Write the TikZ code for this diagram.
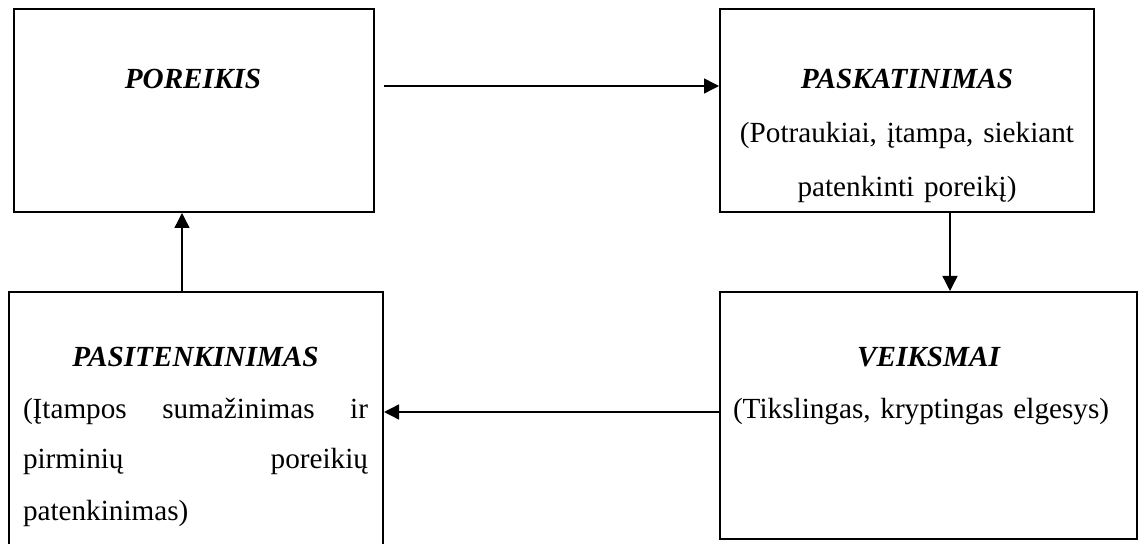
\documentclass[tikz,border=0pt]{standalone}
\usepackage{fontspec}
\setmainfont{Liberation Serif}
\usepackage{tikz}
\usetikzlibrary{arrows.meta,positioning}
\setlength{\parindent}{0pt}

\begin{document}
\begin{tikzpicture}[x=0.5pt,y=-0.5pt,
data/.style={
rectangle,
draw,
line width=1pt
},
txt/.style={anchor=base,inner sep=0pt,font=\fontsize{14.6pt}{25.5pt}\selectfont},
title/.style={txt,font=\fontsize{14.6pt}{25.5pt}\selectfont\bfseries\itshape},
to/.style={-{Triangle[length=7.5pt,width=7.5pt]},line width=0.7pt},]

\useasboundingbox (0,0) rectangle (1138,544);

\node (poreikis) [data,minimum width=180pt,minimum height=101.5pt] at (194,110.5) {};
\node (paskatinimas) [data,minimum width=187pt,minimum height=101.5pt] at (907,110.5) {};
\node (pasitenkinimas) [data,minimum width=187pt,minimum height=128pt] at (196,420) {};
\node (veiksmai) [data,minimum width=208.5pt,minimum height=123.5pt] at (928.5,415.5) {};

\node (poreikistxt) [title] at (193,89) {POREIKIS};
\node (paskatinimastxt) [txt,text width=190pt,align=center,font=\fontsize{14.6pt}{27pt}\selectfont] at (907,89)
  {\textbf{\textit{PASKATINIMAS}}\\(Potraukiai, įtampa, siekiant\\patenkinti poreikį)};
\node (pasitenkinimastxt) [txt,text width=172.5pt,align=left] at (195.5,367)
  {\hfill\textbf{\textit{PASITENKINIMAS}}\hfill\mbox{}\\(Įtampos\hfill sumažinimas\hfill ir\\pirminių\hfill poreikių\\patenkinimas)};
\node (veiksmaitxt) [txt,text width=196pt,align=left] at (929,367)
  {\hfill\textbf{\textit{VEIKSMAI}}\hfill\mbox{}\\(Tikslingas, kryptingas elgesys)};

\coordinate (start) at (384,86);
\draw[to] (start) -- (start -| paskatinimas.west);
\draw[to] ([xshift=21.5pt]paskatinimas.south) -- ([xshift=21.5pt]paskatinimas.south |- veiksmai.north);
\draw[to] ([yshift=1.75pt]veiksmai.west) -- ([yshift=1.75pt]veiksmai.west -| pasitenkinimas.east);
\draw[to] ([xshift=-7pt]pasitenkinimas.north) -- ([xshift=-7pt]pasitenkinimas.north |- poreikis.south);
\end{tikzpicture}
\end{document}
